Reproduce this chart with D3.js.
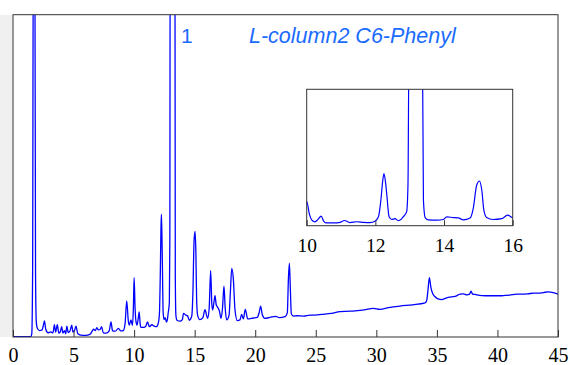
<!DOCTYPE html>
<html>
<head>
<meta charset="utf-8">
<script src="https://cdn.jsdelivr.net/npm/d3@7"></script>
<style>
  html, body { margin: 0; padding: 0; background: #fff; }
  svg { display: block; }
</style>
</head>
<body>
<svg id="chart" width="570" height="365"></svg>
<script>
// retention time (min) and detector signal (arbitrary units, 100 = top of main frame)
const retentionTime = [
  0, 1.45, 1.55, 1.62, 1.68, 1.8, 1.86, 1.92, 2.0, 2.2, 2.4, 2.5, 2.6, 2.7, 2.9,
  3.1, 3.3, 3.42, 3.52, 3.66, 3.78, 3.9, 4.02, 4.12, 4.25, 4.35, 4.45, 4.55, 4.7,
  4.85, 4.95, 5.08, 5.2, 5.35, 5.6, 6.0, 6.35, 6.55, 6.65, 6.8, 6.92, 7.05, 7.2,
  7.32, 7.45, 7.7, 7.95, 8.09, 8.22, 8.45, 8.7, 8.9, 9.1, 9.25, 9.39, 9.52, 9.6,
  9.74, 9.86, 9.94, 10.0, 10.08, 10.15, 10.24, 10.33, 10.42, 10.5, 10.56, 10.8,
  10.97, 11.1, 11.26, 11.46, 11.65, 11.84, 11.99, 12.09, 12.16, 12.21, 12.25,
  12.29, 12.33, 12.4, 12.48, 12.57, 12.67, 12.75, 12.81, 12.91, 12.95, 12.98,
  13.37, 13.4, 13.45, 13.54, 13.79, 13.98, 14.08, 14.27, 14.42, 14.56, 14.76,
  14.85, 14.95, 15.03, 15.1, 15.16, 15.24, 15.43, 15.68, 15.85, 16.0, 16.07,
  16.2, 16.32, 16.42, 16.49, 16.6, 16.68, 16.78, 16.87, 17.04, 17.18, 17.3,
  17.42, 17.52, 17.64, 17.84, 17.95, 18.06, 18.19, 18.33, 18.52, 18.74, 18.88,
  19.02, 19.18, 19.38, 19.84, 20.17, 20.32, 20.45, 20.58, 20.8, 21.22, 21.69,
  22.0, 22.46, 22.65, 22.74, 22.82, 22.9, 22.98, 23.15, 23.43, 24.0, 24.52,
  24.94, 25.5, 26.3, 27.0, 27.83, 28.24, 29.0, 29.75, 30.3, 31.0, 31.96, 33.0,
  34.02, 34.15, 34.25, 34.38, 34.5, 34.65, 34.85, 35.1, 35.4, 35.7, 35.95, 36.5,
  36.91, 37.2, 37.46, 37.7, 37.82, 37.95, 38.15, 38.5, 38.98, 39.5, 40.2, 40.63,
  41.0, 41.6, 42.0, 42.5, 43.0, 43.38, 43.8, 44.2, 44.6, 45.0
];
const signal = [
  0.1, 0.1, 1.0, 20, 130, 130, 20, 5, 2.8, 2.0, 2.2, 3.5, 5.0, 2.5, 1.3,
  1.6, 1.3, 3.8, 1.5, 3.8, 1.2, 1.6, 3.2, 1.2, 2.0, 1.0, 3.4, 1.4, 1.8,
  3.7, 1.5, 2.0, 3.4, 1.0, 0.6, 0.5, 0.8, 1.9, 2.4, 2.0, 2.9, 2.2, 2.4,
  3.2, 1.3, 1.2, 2.0, 4.7, 1.9, 1.8, 2.7, 1.9, 2.0, 4.0, 11.2, 5.0, 3.7,
  5.3, 3.6, 9.0, 18.4, 9.0, 4.9, 3.7, 5.5, 7.8, 4.0, 3.0, 3.0,
  3.4, 4.7, 3.2, 3.8, 3.4, 3.2, 4.2, 7.3, 19, 32, 38.1,
  33, 23.9, 7.3, 5.4, 6.0, 4.6, 5.5, 7.3, 10.8, 30, 130,
  130, 19, 6.8, 5.2, 4.9, 5.4, 7.3, 6.8, 6.5, 5.2, 6.5,
  13.2, 29.8, 32.8, 26.2, 12, 6.8, 5.4, 6.0, 8.5, 6.5, 5.8,
  9, 20.6, 10, 8.4, 11, 12.8, 10, 9.4, 8.1, 5.8, 9,
  15.8, 9, 5.3, 6.8, 14, 21.3, 18.2, 8.4, 5.1, 5.3, 7.0,
  5.6, 8.6, 5.6, 5.9, 6.1, 7.5, 9.6, 7.0, 5.8, 6.1, 6.4,
  6.0, 6.3, 7.5, 18, 22.9, 15, 7.2, 6.5, 6.6, 6.5, 6.8,
  6.8, 7.0, 7.3, 7.9, 8.0, 8.1, 8.4, 8.9, 8.6, 9.1, 9.6, 10.0,
  10.6, 11.2, 14, 18.4, 15.5, 13.5, 12.5, 11.8, 11.6, 12.0, 12.3, 12.6,
  13.3, 13.4, 13.1, 13.3, 14.2, 13.3, 13.2, 12.9, 12.8, 12.8, 12.8, 12.9,
  13.0, 13.3, 13.3, 13.4, 13.6, 13.6, 13.8, 14.0, 13.8, 13.3
];
const xTicks = [0, 5, 10, 15, 20, 25, 30, 35, 40, 45];
const insetTicks = [10, 12, 14, 16];
const peakLabel = '1';
const columnLabel = 'L-column2 C6-Phenyl';

const points = retentionTime.map((t, i) => ({ t, v: signal[i] }));

const svg = d3.select('#chart');
const lineColor = '#0000ff';
const frameColor = '#333';
const serif = '"Liberation Serif", "Times New Roman", "DejaVu Serif", serif';
const sans = '"Liberation Sans", Arial, sans-serif';

// main frame
const x = d3.scaleLinear().domain([0, 45]).range([13, 558]);
const y = d3.scaleLinear().domain([0, 100]).range([337, 14.7]);

svg.append('rect')
  .attr('x', 0).attr('y', 14.7)
  .attr('width', 12.5).attr('height', 322.3)
  .attr('fill', '#f0f0f0');

svg.append('clipPath').attr('id', 'clip-main')
  .append('rect')
  .attr('x', x(0)).attr('y', y(100))
  .attr('width', x(45) - x(0)).attr('height', y(0) - y(100));

const line = d3.line()
  .x((d) => x(d.t))
  .y((d) => y(d.v))
  .curve(d3.curveMonotoneX);

svg.append('path')
  .datum(points)
  .attr('clip-path', 'url(#clip-main)')
  .attr('fill', 'none')
  .attr('stroke', lineColor)
  .attr('stroke-width', 1.3)
  .attr('d', line);

const xAxis = svg.append('g')
  .attr('transform', `translate(0,${y(0)})`)
  .attr('font-family', serif)
  .attr('font-size', 20)
  .call(d3.axisBottom(x).tickValues(xTicks).tickFormat(d3.format('d'))
    .tickSizeInner(-7).tickSizeOuter(0));
xAxis.select('.domain').remove();
xAxis.selectAll('line').attr('stroke', frameColor);
xAxis.selectAll('text')
  .attr('y', 25).attr('dy', null)
  .attr('fill', '#000')
  .style('font-family', serif)
  .style('font-size', '20px');

svg.append('rect')
  .attr('x', x(0)).attr('y', y(100))
  .attr('width', x(45) - x(0)).attr('height', y(0) - y(100))
  .attr('fill', 'none')
  .attr('stroke', frameColor)
  .attr('stroke-width', 1);

// labels
svg.append('text')
  .attr('x', 181).attr('y', 42.7)
  .attr('fill', '#1a6bff')
  .style('font-family', sans)
  .style('font-size', '21px')
  .text(peakLabel);

svg.append('text')
  .attr('x', 249).attr('y', 42.7)
  .attr('fill', '#1a6bff')
  .style('font-family', sans)
  .style('font-style', 'italic')
  .style('font-size', '21.5px')
  .text(columnLabel);

// inset: zoom on 10-16 min
const xi = d3.scaleLinear().domain([10, 16]).range([306.7, 512.7]);
const yi = d3.scaleLinear().domain([1, 98]).range([225.7, 89.3]);

const inset = svg.append('g').attr('class', 'inset');

inset.append('rect')
  .attr('x', xi(10)).attr('y', yi(98))
  .attr('width', xi(16) - xi(10)).attr('height', yi(1) - yi(98))
  .attr('fill', '#fff');

inset.append('clipPath').attr('id', 'clip-inset')
  .append('rect')
  .attr('x', xi(10)).attr('y', yi(98))
  .attr('width', xi(16) - xi(10)).attr('height', yi(1) - yi(98));

const insetLine = d3.line()
  .x((d) => xi(d.t))
  .y((d) => yi(d.v))
  .curve(d3.curveMonotoneX);

inset.append('path')
  .datum(points.filter((d) => d.t >= 9.8 && d.t <= 16.2))
  .attr('clip-path', 'url(#clip-inset)')
  .attr('fill', 'none')
  .attr('stroke', lineColor)
  .attr('stroke-width', 1.2)
  .attr('d', insetLine);

const insetAxis = inset.append('g')
  .attr('transform', `translate(0,${yi(1)})`)
  .attr('font-family', serif)
  .attr('font-size', 19.5)
  .call(d3.axisBottom(xi).tickValues(insetTicks).tickFormat(d3.format('d'))
    .tickSizeInner(-5.5).tickSizeOuter(0));
insetAxis.select('.domain').remove();
insetAxis.selectAll('line').attr('stroke', frameColor);
insetAxis.selectAll('text')
  .attr('y', 26).attr('dy', null)
  .attr('fill', '#000')
  .style('font-family', serif)
  .style('font-size', '19.5px');

inset.append('rect')
  .attr('x', xi(10)).attr('y', yi(98))
  .attr('width', xi(16) - xi(10)).attr('height', yi(1) - yi(98))
  .attr('fill', 'none')
  .attr('stroke', frameColor)
  .attr('stroke-width', 1);
</script>
</body>
</html>
